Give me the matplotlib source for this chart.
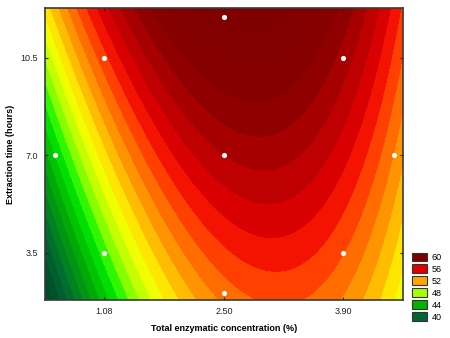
import numpy as np
import matplotlib
matplotlib.use("Agg")
import matplotlib.pyplot as plt
from matplotlib.colors import LinearSegmentedColormap, Normalize
from matplotlib.patches import Patch

plt.rcParams["font.family"] = ["Liberation Sans", "DejaVu Sans"]

# design points (central composite design) and responses
conc = [1.08, 3.90, 1.08, 3.90, 0.51, 4.49, 2.50, 2.50, 2.50]
time = [3.5, 3.5, 10.5, 10.5, 7.0, 7.0, 2.05, 11.95, 7.0]
resp = [46.0, 53.8, 55.4, 59.6, 44.8, 52.5, 54.0, 61.2, 58.0]

x_ticks = [1.08, 2.50, 3.90]
y_ticks = [3.5, 7.0, 10.5]
legend_vals = [60, 56, 52, 48, 44, 40]
legend_cols = ["#800000", "#e00000", "#ffa500", "#a8ff00", "#00b400", "#006633"]

# colour scale (value -> colour)
anchors = [(38, "#004d26"), (40, "#006633"), (42, "#008c1a"), (44, "#00b400"),
           (46, "#00f000"), (47, "#66ff00"), (48, "#a8ff00"), (49, "#ddff00"),
           (50, "#ffff00"), (51, "#ffd000"), (52, "#ffa500"), (53, "#ff8000"),
           (54, "#ff5a00"), (55, "#ff2800"), (56, "#e80000"), (57, "#cc0000"),
           (58, "#b40000"), (59, "#9a0000"), (60, "#880000"), (62, "#820000"),
           (64, "#7c0000")]
vmin, vmax = anchors[0][0], anchors[-1][0]
cmap = LinearSegmentedColormap.from_list(
    "stat", [((v - vmin) / (vmax - vmin), c) for v, c in anchors])

# quadratic response surface fitted to the design points
X = (np.array(conc) - 2.5) / 1.41
Y = (np.array(time) - 7.0) / 3.5
A = np.column_stack([np.ones_like(X), X, Y, X**2, Y**2, X * Y])
coef, *_ = np.linalg.lstsq(A, np.array(resp), rcond=None)

xlim = (0.39, 4.60)
ylim = (1.80, 12.28)
gx, gy = np.meshgrid(np.linspace(*xlim, 300), np.linspace(*ylim, 300))
GX = (gx - 2.5) / 1.41
GY = (gy - 7.0) / 3.5
Z = (coef[0] + coef[1] * GX + coef[2] * GY + coef[3] * GX**2
     + coef[4] * GY**2 + coef[5] * GX * GY)

fig = plt.figure(figsize=(4.5, 3.38), dpi=100)
ax = fig.add_axes([0.1, 0.1124, 0.7956, 0.8639])
ax.contourf(gx, gy, Z, levels=np.arange(30, 72, 1), cmap=cmap,
            norm=Normalize(vmin, vmax), extend="both", antialiased=False)
ax.scatter(conc, time, s=14, color="white", zorder=3, linewidths=0)

ax.set_xlim(xlim)
ax.set_ylim(ylim)
ax.set_xticks(x_ticks)
ax.set_xticklabels(["1.08", "2.50", "3.90"])
ax.set_yticks(y_ticks)
ax.set_yticklabels(["3.5", "7.0", "10.5"])
ax.tick_params(direction="in", length=2, width=0.8, labelsize=6.5,
               top=True, right=True, pad=5, colors="#222222")
for s in ax.spines.values():
    s.set_color("#3a3a3a")
    s.set_linewidth(1.2)

ax.set_xlabel("Total enzymatic concentration (%)", fontsize=6.5,
              fontweight="bold", labelpad=6)
ax.set_ylabel("Extraction time (hours)", fontsize=6.5,
              fontweight="bold", labelpad=4)

handles = [Patch(facecolor=c, edgecolor="#333333", linewidth=0.8)
           for c in legend_cols]
fig.legend(handles, [str(v) for v in legend_vals], loc="lower left",
           bbox_to_anchor=(0.905, 0.035), frameon=False, fontsize=6.5,
           handlelength=1.7, handleheight=1.05, labelspacing=0.3,
           handletextpad=0.5, borderpad=0)

fig.savefig("out.png", dpi=100)
